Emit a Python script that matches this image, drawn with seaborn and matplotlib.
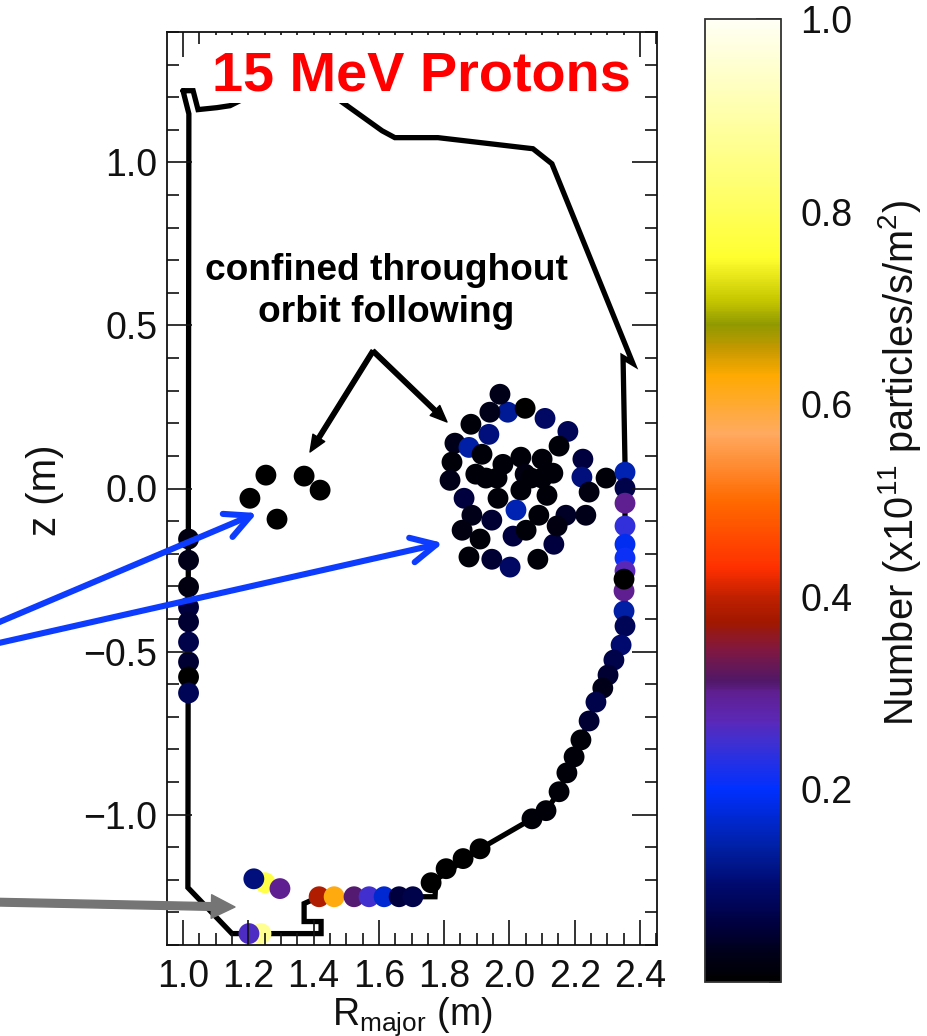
import numpy as np
import pandas as pd
import matplotlib
matplotlib.use("Agg")
import matplotlib.pyplot as plt
from matplotlib.colors import LinearSegmentedColormap, Normalize
from matplotlib.cm import ScalarMappable
from matplotlib.patches import Rectangle
from matplotlib.ticker import MultipleLocator
import seaborn as sns

# ---- vessel wall ----
wall_R = [1.000, 1.031, 1.046, 1.104, 1.144, 1.266, 1.389, 1.490, 1.610, 1.649, 1.781, 2.072, 2.130, 2.378,
          2.348, 2.354, 2.354, 2.342, 2.265, 2.219, 2.152, 2.112, 2.069, 1.910, 1.775, 1.772, 1.417, 1.371,
          1.371, 1.423, 1.423, 1.150, 1.015, 1.018, 1.000]
wall_z = [1.220, 1.220, 1.162, 1.168, 1.174, 1.235, 1.257, 1.183, 1.097, 1.076, 1.076, 1.042, 0.996, 0.384,
          0.402, 0.077, -0.403, -0.480, -0.655, -0.771, -0.930, -0.988, -1.013, -1.105, -1.200, -1.252, -1.252, -1.273,
          -1.328, -1.328, -1.365, -1.365, -1.224, 1.149, 1.220]

# ---- particle positions and numbers ----
inner_R = [1.017] * 9
inner_z = [-0.155, -0.220, -0.302, -0.364, -0.409, -0.471, -0.532, -0.578, -0.627]
inner_v = [0.02, 0.03, 0.02, 0.06, 0.05, 0.07, 0.05, 0.0, 0.08]

core_R = [1.205, 1.254, 1.288, 1.371, 1.420]
core_z = [-0.030, 0.041, -0.094, 0.038, -0.005]
core_v = [0.0, 0.0, 0.0, 0.0, 0.0]

island_R = [1.995, 1.971, 1.940, 2.048, 2.109, 2.179, 1.882, 1.937, 2.152, 1.833, 1.876, 1.916,
            2.225, 1.824, 2.035, 2.100, 1.980, 1.818, 1.897, 2.133, 2.048, 1.928, 1.962, 2.100,
            2.066, 2.222, 2.296, 2.244, 2.035, 2.115, 1.965, 1.861, 2.020, 2.090, 1.885, 1.946,
            2.173, 2.234, 1.855, 2.136, 2.146, 2.011, 2.051, 1.910, 1.876, 1.946, 2.002, 2.087]
island_z = [0.234, 0.289, 0.234, 0.246, 0.215, 0.175, 0.197, 0.166, 0.130, 0.139, 0.126, 0.105,
            0.090, 0.081, 0.096, 0.090, 0.074, 0.025, 0.044, 0.047, 0.044, 0.032, 0.032, 0.032,
            0.032, 0.035, 0.032, -0.011, -0.005, -0.021, -0.030, -0.030, -0.066, -0.082, -0.082, -0.097,
            -0.082, -0.082, -0.128, -0.171, -0.115, -0.146, -0.128, -0.155, -0.210, -0.217, -0.241, -0.217]
island_v = [0.13, 0.03, 0.03, 0.0, 0.09, 0.08, 0.01, 0.11, 0.01, 0.03, 0.14, 0.01,
            0.06, 0.01, 0.01, 0.01, 0.01, 0.03, 0.01, 0.01, 0.02, 0.01, 0.01, 0.01,
            0.01, 0.11, 0.01, 0.02, 0.01, 0.01, 0.01, 0.06, 0.15, 0.01, 0.03, 0.05,
            0.04, 0.03, 0.02, 0.06, 0.02, 0.06, 0.01, 0.01, 0.01, 0.05, 0.09, 0.01]

outer_R = [2.354, 2.354, 2.354, 2.354, 2.354, 2.354, 2.354, 2.351, 2.351, 2.351, 2.354, 2.342, 2.320,
           2.302, 2.286, 2.265, 2.244, 2.219, 2.198, 2.176, 2.152, 2.112, 2.069, 1.910, 1.858, 1.806, 1.760]
outer_z = [0.050, 0.001, -0.045, -0.115, -0.171, -0.213, -0.253, -0.314, -0.278, -0.376, -0.422, -0.480, -0.526,
           -0.572, -0.612, -0.655, -0.713, -0.771, -0.823, -0.872, -0.930, -0.988, -1.013, -1.105, -1.135, -1.166, -1.209]
outer_v = [0.15, 0.07, 0.30, 0.24, 0.19, 0.21, 0.27, 0.30, 0.0, 0.14, 0.08, 0.10, 0.07,
           0.05, 0.03, 0.07, 0.05, 0.01, 0.01, 0.01, 0.01, 0.01, 0.01, 0.0, 0.0, 0.0, 0.0]

floor_R = [1.251, 1.217, 1.297, 1.417, 1.463, 1.524, 1.570, 1.616, 1.662, 1.704, 1.239, 1.202]
floor_z = [-1.209, -1.197, -1.227, -1.252, -1.252, -1.252, -1.252, -1.252, -1.252, -1.252, -1.365, -1.365]
floor_v = [0.78, 0.11, 0.30, 0.385, 0.62, 0.31, 0.25, 0.17, 0.06, 0.07, 0.87, 0.26]

x_ticks = [1.0, 1.2, 1.4, 1.6, 1.8, 2.0, 2.2, 2.4]
y_ticks = [-1.0, -0.5, 0.0, 0.5, 1.0]
bar_ticks = [0.2, 0.4, 0.6, 0.8, 1.0]

# ---- colour table ----
cmap_stops = [(0.0, '#000000'), (0.03, '#00001a'), (0.06, '#000040'), (0.10, '#000a6e'), (0.14, '#0020a5'),
              (0.20, '#0030ff'), (0.25, '#4030d0'), (0.27, '#5a28b8'), (0.30, '#601f90'), (0.312, '#501868'),
              (0.345, '#801840'), (0.373, '#a01800'), (0.40, '#c02000'), (0.43, '#ff3000'), (0.50, '#ff6a00'),
              (0.57, '#ffaa60'), (0.63, '#ffaa00'), (0.66, '#c09800'), (0.683, '#909a00'), (0.709, '#c8c800'),
              (0.753, '#ffff30'), (0.826, '#ffff70'), (1.0, '#fffff5')]

sns.set_theme(style='ticks')
plt.rcParams['font.family'] = ['Liberation Sans', 'DejaVu Sans']
plt.rcParams['mathtext.fontset'] = 'custom'
plt.rcParams['mathtext.rm'] = 'Liberation Sans'
plt.rcParams['mathtext.default'] = 'regular'
plt.rcParams['axes.unicode_minus'] = True

W, H = 928, 1036
FS = 27
INK = '#111111'
fig = plt.figure(figsize=(W / 100, H / 100), dpi=100, facecolor='white')


def fx(px):
    return px / W


def fy(py):
    return 1 - py / H


ax = fig.add_axes([fx(167), fy(945), (657 - 167) / W, (945 - 32) / H])
cax = fig.add_axes([fx(705), fy(982), (781 - 705) / W, (982 - 19) / H])

cmap = LinearSegmentedColormap.from_list('number', cmap_stops, N=512)

df_wall = pd.DataFrame({'R': wall_R, 'z': wall_z})
sns.lineplot(data=df_wall, x='R', y='z', sort=False, estimator=None,
             color='black', lw=3.8, ax=ax, zorder=1.2, solid_joinstyle='miter', legend=False)

df_pts = pd.DataFrame({
    'R': inner_R + core_R + island_R + outer_R + floor_R,
    'z': inner_z + core_z + island_z + outer_z + floor_z,
    'v': inner_v + core_v + island_v + outer_v + floor_v,
})
sns.scatterplot(data=df_pts, x='R', y='z', hue='v', palette=cmap, hue_norm=(0, 1), s=225, linewidth=0,
                legend=False, ax=ax, zorder=2)

ax.set_xlim(0.951, 2.452)
ax.set_ylim(-1.4, 1.4)
ax.set_axisbelow(False)
ax.set_xticks(x_ticks)
ax.set_yticks(y_ticks)
ax.set_xticklabels([f'{t:.1f}' for t in x_ticks])
ax.set_yticklabels([f'{t:.1f}'.replace('-', '\u2212') for t in y_ticks])
ax.xaxis.set_minor_locator(MultipleLocator(0.05))
ax.yaxis.set_minor_locator(MultipleLocator(0.1))
ax.tick_params(which='major', direction='in', length=18, width=1.2, color=INK, top=True, right=True,
               labelsize=FS, labelcolor=INK, pad=10)
ax.tick_params(axis='y', which='major', pad=7)
ax.tick_params(which='minor', direction='in', length=8.6, width=1.2, color=INK, top=True, right=True)
ax.set_xlabel('')
ax.set_ylabel('')
for s in ax.spines.values():
    s.set_linewidth(1.3)
    s.set_color(INK)

# white plate behind the heading
ax.add_patch(Rectangle((1.0735, 1.183), 1.3015, 0.208, fc='white', ec='none', zorder=5))

sm = ScalarMappable(norm=Normalize(0, 1), cmap=cmap)
cb = fig.colorbar(sm, cax=cax)
cb.set_ticks(bar_ticks)
cb.ax.set_yticklabels([f'{t:.1f}' for t in bar_ticks])
cb.ax.yaxis.set_minor_locator(MultipleLocator(0.05))
cb.ax.tick_params(which='major', direction='in', length=18, width=1.2, color=INK, labelsize=FS,
                  labelcolor=INK, pad=14)
cb.ax.tick_params(which='minor', direction='in', length=8.6, width=1.2, color=INK)
cb.outline.set_linewidth(1.3)
cb.outline.set_edgecolor('#333333')

fig.text(fx(421), fy(90.7), '15 MeV Protons', color='#ff0000', fontsize=40.2, fontweight='bold',
         ha='center', va='baseline', zorder=20)
fig.text(fx(386), fy(280), 'confined throughout', color='black', fontsize=26.7, fontweight='bold',
         ha='center', va='baseline')
fig.text(fx(386), fy(322), 'orbit following', color='black', fontsize=26.7, fontweight='bold',
         ha='center', va='baseline')
fig.text(fx(412), fy(1025), r'R$_{major}$ (m)', color=INK, fontsize=27, ha='center', va='baseline')
fig.text(fx(45), fy(490), 'z (m)', color=INK, fontsize=29, rotation=90, ha='center', va='center')
fig.text(fx(900), fy(463), r'Number (x10$^{11}$ particles/s/m$^{2}$)', color=INK, fontsize=28.6,
         rotation=90, ha='center', va='center')


def arrow(start, end, **props):
    ax.annotate('', xy=(fx(end[0]), fy(end[1])), xytext=(fx(start[0]), fy(start[1])),
                xycoords='figure fraction', textcoords='figure fraction',
                arrowprops=props, annotation_clip=False, zorder=10)


BLUE = '#0d3cff'
open_head = '->,head_length=0.9,head_width=0.45'
arrow((-10, 626), (257, 513), arrowstyle=open_head, mutation_scale=20, lw=4.4, color=BLUE, shrinkA=0, shrinkB=0)
arrow((-10, 645), (443, 543), arrowstyle=open_head, mutation_scale=20, lw=4.4, color=BLUE, shrinkA=0, shrinkB=0)
arrow((-10, 902), (235, 907), width=5.5, headwidth=17, headlength=17, color='#757575', shrink=0)
arrow((373, 351), (310, 452), width=3.2, headwidth=10, headlength=12, color='black', shrink=0)
arrow((373, 351), (447, 422), width=3.2, headwidth=10, headlength=12, color='black', shrink=0)

fig.savefig('out.png', dpi=100, facecolor='white')
